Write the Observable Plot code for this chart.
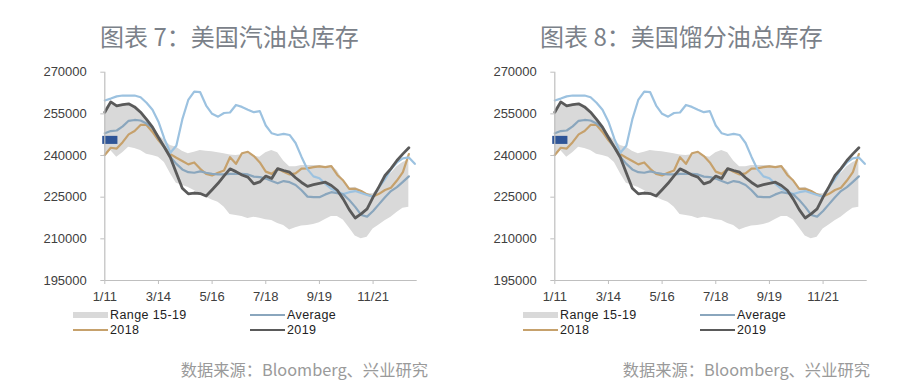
<!DOCTYPE html>
<html><head><meta charset="utf-8">
<script src="https://cdn.jsdelivr.net/npm/d3@7"></script>
<script src="https://cdn.jsdelivr.net/npm/@observablehq/plot@0.6"></script>
<style>
html,body{margin:0;padding:0;background:#fff;}
body{width:900px;height:389px;position:relative;overflow:hidden;font-family:"Noto Sans CJK SC","Noto Sans",sans-serif;}
.panel{position:absolute;top:0;width:450px;height:389px;}
.title{position:absolute;top:24px;font-size:24px;line-height:24px;color:#7b8189;white-space:nowrap;}
.chart{position:absolute;top:55px;left:0;}
.chart svg{overflow:visible;}
.lg{position:absolute;font-family:"Liberation Sans",Arial,sans-serif;font-size:12.5px;letter-spacing:0.4px;line-height:14px;color:#222;white-space:nowrap;}
.sw{position:absolute;}
.source{position:absolute;top:361px;font-size:16.3px;line-height:16px;color:#9a9a9a;white-space:nowrap;}
</style>
</head><body>
<script>
const titles = ["图表 7：美国汽油总库存", "图表 8：美国馏分油总库存"];
const sourceText = "数据来源：Bloomberg、兴业研究";
const legendNames = ["Range 15-19", "Average", "2018", "2019"];
const tickWeeks = [0, 9, 18, 27, 36, 45];
const tickLabels = ["1/11", "3/14", "5/16", "7/18", "9/19", "11/21"];
const yTicks = [195000, 210000, 225000, 240000, 255000, 270000];

const rangeHigh = [
 256500, 259500, 258200, 258400, 258700, 257600, 255700, 253000, 250300, 247500,
 245500, 243600, 243000, 241500, 240600, 241200, 241800, 241500, 241400, 241000,
 240600, 240200, 240000, 240300, 240600, 239800, 239400, 241000, 241800, 241000,
 238000, 236000, 236000, 236400, 236400, 236400, 236400, 236000, 236400, 234500,
 231000, 228200, 228600, 227500, 226200, 226200, 228500, 231000, 233500, 236000,
 237500, 238500];
const rangeLow = [
 239600, 241800, 239400, 241000, 243000, 242500, 241800, 240500, 240000, 239400,
 237500, 233500, 230000, 229300, 228500, 227400, 226200, 225000, 224000, 223200,
 221500, 218800, 218400, 218000, 217300, 217800, 217400, 216900, 216600, 215500,
 214800, 213200, 214000, 214600, 214800, 215200, 215800, 217000, 218000, 218000,
 216800, 214000, 211000, 210000, 210600, 213500, 215000, 216500, 217800, 219500,
 221000, 221400];
const average = [
 248000, 248800, 249000, 250500, 252500, 252800, 252600, 251500, 250000, 246500,
 243000, 239500, 237000, 235000, 234000, 233800, 234300, 233800, 233400, 233200,
 233200, 233400, 233400, 233400, 233200, 232400, 232200, 231700, 230800, 230000,
 230800, 230400, 229400, 227500, 225200, 225000, 225000, 226000, 226800, 226400,
 226000, 224000, 221500, 218600, 218000, 220000, 222500, 225000, 227200, 228600,
 230500, 232500];
const y2018 = [
 240200, 242800, 242500, 244800, 247600, 248800, 251000, 251000, 248500, 245500,
 243000, 240500, 239200, 238000, 236800, 237500, 235200, 233400, 232800, 233800,
 234600, 239400, 237000, 240800, 241300, 239800, 237500, 234200, 233400, 235200,
 234200, 233200, 233600, 235300, 235400, 235800, 236100, 235800, 236200, 233000,
 231000, 228000, 228000, 227200, 226000, 225200, 226200, 227600, 228400, 231000,
 234000, 240500];
const y2019 = [
 255600, 259300, 257900, 258300, 258600, 257500, 255600, 253000, 250200, 246500,
 243000, 239300, 233700, 228200, 226200, 226500, 226300, 225400, 227700, 230000,
 232700, 235200, 234200, 233000, 232200, 229800, 230500, 232600, 231700, 235300,
 234600, 234000, 232000, 230300, 228900, 229500, 230000, 230400, 229200, 227500,
 224300, 220500, 217500, 219000, 220800, 225000, 228800, 232800, 235300, 238200,
 240600, 242800];
// unlabelled light-blue series (not in legend)
const otherSeries = [
 259800, 260500, 261300, 261600, 261600, 261600, 261000, 259000, 256500, 252200,
 246000, 241000, 243500, 253000, 260000, 263000, 262800, 258000, 255000, 254000,
 255300, 255500, 258200, 257500, 256500, 255600, 256000, 250800, 248000, 247400,
 247800, 247400, 244500, 239500, 235000, 232500, 231800, 229800, 228000, 227000,
 226100, 226800, 227200, 226500, 225800, 225200, 228500, 231500, 235000, 237500,
 239000, 239300, 237000];
// blue block at the y axis (week span and value span)
const marker = [{w1: -0.35, w2: 2.2, v1: 244000, v2: 246900}];

const colors = {band:"#d9d9d9", avg:"#8aa6bd", y2018:"#c6a16c", y2019:"#5a5a5a", other:"#9cc2e0", marker:"#2f5597"};

const band = rangeLow.map((lo, i) => ({i, lo, hi: rangeHigh[i]}));

function makeChart() {
  return Plot.plot({
    width: 450, height: 255,
    marginTop: 16.7, marginBottom: 30, marginLeft: 104.3, marginRight: 33.3,
    style: {fontFamily: "'Liberation Sans', Arial, sans-serif", fontSize: "13px", color: "#404040", background: "transparent"},
    x: {domain: [0, 52.4], axis: null},
    y: {domain: [195000, 270000], axis: null},
    marks: [
      Plot.areaY(band, {x: "i", y1: "lo", y2: "hi", fill: colors.band}),
      Plot.lineY(y2018, {stroke: colors.y2018, strokeWidth: 2.2, strokeLinejoin: "round"}),
      Plot.lineY(otherSeries, {stroke: colors.other, strokeWidth: 2.2, strokeLinejoin: "round"}),
      Plot.lineY(average, {stroke: colors.avg, strokeWidth: 2.2, strokeLinejoin: "round"}),
      Plot.lineY(y2019, {stroke: colors.y2019, strokeWidth: 2.8, strokeLinejoin: "round"}),
      Plot.rect(marker, {x1: "w1", x2: "w2", y1: "v1", y2: "v2", fill: colors.marker}),
      Plot.ruleX([0], {stroke: "#bfbfbf", strokeWidth: 1.2}),
      Plot.ruleY([195000], {stroke: "#bfbfbf", strokeWidth: 1.2}),
      Plot.axisY({ticks: yTicks, tickSize: 4, tickPadding: 14, tickFormat: d3.format("d"), stroke: "#bfbfbf", fill: "#404040"}),
      Plot.axisX({ticks: tickWeeks, tickSize: 4, tickPadding: 7, tickFormat: d => tickLabels[tickWeeks.indexOf(d)], stroke: "#bfbfbf", fill: "#404040"})
    ]
  });
}

const titleLeft = [100, 90];
const sourceRight = [428, 420];

titles.forEach((t, p) => {
  const panel = document.createElement("div");
  panel.className = "panel";
  panel.style.left = (p * 450) + "px";
  document.body.appendChild(panel);

  const title = document.createElement("div");
  title.className = "title";
  title.style.left = titleLeft[p] + "px";
  title.textContent = t;
  panel.appendChild(title);

  const chart = document.createElement("div");
  chart.className = "chart";
  chart.appendChild(makeChart());
  panel.appendChild(chart);

  // legend
  const items = [
    {name: legendNames[0], color: colors.band, x: 73, y: 315, h: 6},
    {name: legendNames[1], color: colors.avg, x: 250, y: 315, h: 2},
    {name: legendNames[2], color: colors.y2018, x: 73, y: 330, h: 2},
    {name: legendNames[3], color: colors.y2019, x: 250, y: 330, h: 2.5}
  ];
  items.forEach(it => {
    const sw = document.createElement("div");
    sw.className = "sw";
    sw.style.left = it.x + "px";
    sw.style.width = "35px";
    sw.style.top = (it.y - it.h / 2) + "px";
    sw.style.height = it.h + "px";
    sw.style.background = it.color;
    panel.appendChild(sw);
    const tx = document.createElement("div");
    tx.className = "lg";
    tx.style.left = (it.x + 37) + "px";
    tx.style.top = (it.y - 7) + "px";
    tx.textContent = it.name;
    panel.appendChild(tx);
  });

  const src = document.createElement("div");
  src.className = "source";
  src.style.right = (450 - sourceRight[p]) + "px";
  src.textContent = sourceText;
  panel.appendChild(src);
});
</script>
</body></html>
